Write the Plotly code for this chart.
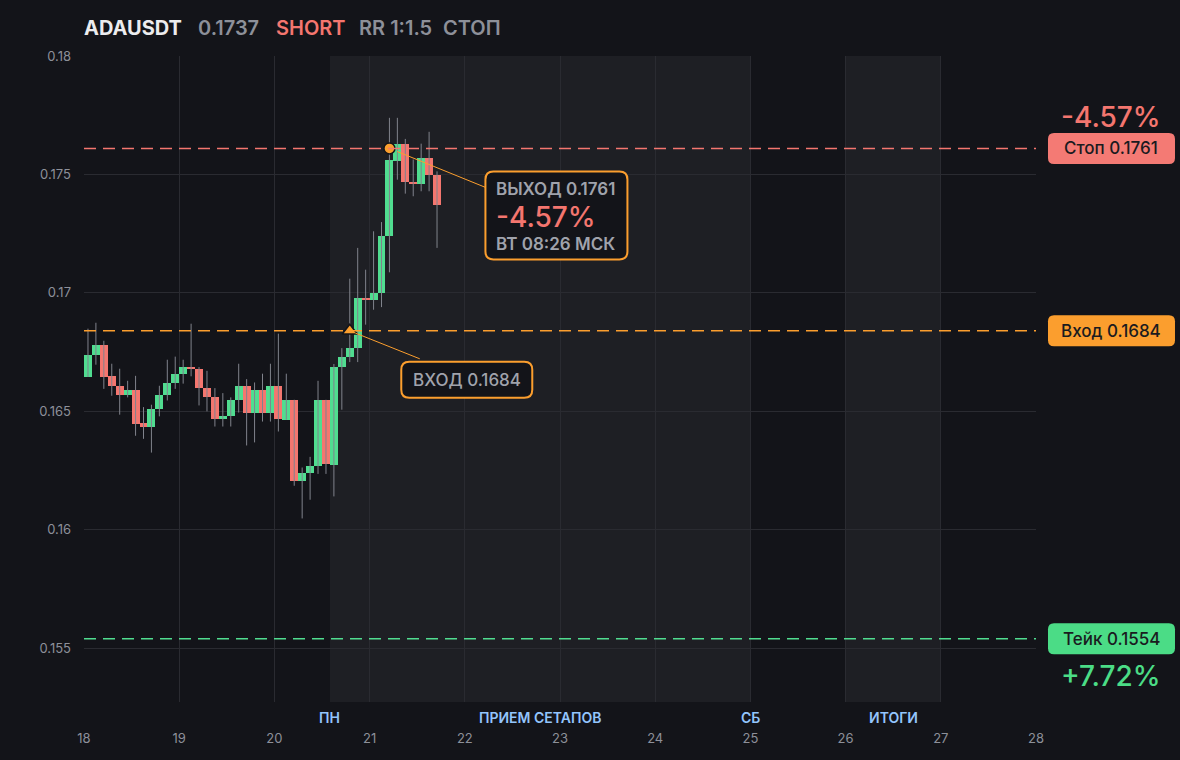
import plotly.graph_objects as go

# 2h candles starting at day 18 00:00
start_day = 18
candle_hours = 2
opens = [0.16647, 0.16736, 0.16781, 0.16650, 0.16608, 0.16567, 0.16591, 0.16450, 0.16436, 0.16508,
         0.16567, 0.16619, 0.16659, 0.16688, 0.16679, 0.16598, 0.16560, 0.16466, 0.16479, 0.16546,
         0.16608, 0.16495, 0.16591, 0.16495, 0.16608, 0.16465, 0.16549, 0.16208, 0.16239, 0.16270,
         0.16549, 0.16274, 0.16687, 0.16729, 0.16766, 0.16978, 0.16968, 0.16999, 0.17239, 0.17556,
         0.17630, 0.17468, 0.17459, 0.17570, 0.17497]
closes = [0.16739, 0.16781, 0.16647, 0.16605, 0.16567, 0.16591, 0.16448, 0.16436, 0.16511, 0.16570,
          0.16619, 0.16659, 0.16688, 0.16679, 0.16597, 0.16559, 0.16466, 0.16481, 0.16549, 0.16608,
          0.16495, 0.16591, 0.16495, 0.16608, 0.16466, 0.16549, 0.16208, 0.16239, 0.16270, 0.16549,
          0.16276, 0.16687, 0.16729, 0.16769, 0.16978, 0.16968, 0.17001, 0.17242, 0.17559, 0.17630,
          0.17468, 0.17459, 0.17570, 0.17497, 0.17370]
highs = [0.16849, 0.16874, 0.16798, 0.16701, 0.16680, 0.16629, 0.16650, 0.16518, 0.16528, 0.16608,
         0.16718, 0.16731, 0.16718, 0.16870, 0.16687, 0.16671, 0.16598, 0.16577, 0.16559, 0.16701,
         0.16636, 0.16622, 0.16659, 0.16701, 0.16828, 0.16659, 0.16549, 0.16263, 0.16308, 0.16629,
         0.16549, 0.16700, 0.16767, 0.17060, 0.17190, 0.17098, 0.17260, 0.17299, 0.17739, 0.17739,
         0.17650, 0.17563, 0.17630, 0.17680, 0.17513]
lows = [0.16645, 0.16697, 0.16595, 0.16566, 0.16486, 0.16559, 0.16397, 0.16384, 0.16326, 0.16479,
        0.16546, 0.16595, 0.16617, 0.16648, 0.16525, 0.16500, 0.16436, 0.16436, 0.16436, 0.16495,
        0.16356, 0.16369, 0.16457, 0.16457, 0.16415, 0.16465, 0.16186, 0.16048, 0.16127, 0.16236,
        0.16236, 0.16141, 0.16507, 0.16708, 0.16708, 0.16866, 0.16929, 0.16940, 0.17087, 0.17478,
        0.17419, 0.17408, 0.17429, 0.17429, 0.17190]

entry_price = 0.1684
stop_price = 0.1761
take_price = 0.1554
entry_candle = 33
exit_candle = 38

session_starts = [20 + 14 / 24, 26]
session_ends = [25, 27]
session_labels = ["ПН", "ПРИЕМ СЕТАПОВ", "СБ", "ИТОГИ"]
session_label_x = [20 + 14 / 24, 22.79, 25, 26.5]

day_ticks = list(range(18, 29))

BG = "#131419"
SHADE = "#1e1f24"
GRID = "#2a2b31"
GREEN = "#50dd90"
RED = "#f4766f"
ORANGE = "#fb9e2e"
GRAY = "#8d9099"
FONT = "Inter"

step = candle_hours / 24
times = [start_day + (i + 0.5) * step for i in range(len(opens))]
colors = [GREEN if c >= o else RED for o, c in zip(opens, closes)]

wick_x, wick_y = [], []
for t, lo, hi in zip(times, lows, highs):
    wick_x += [t, t, None]
    wick_y += [lo, hi, None]

fig = go.Figure()
fig.add_trace(go.Scatter(x=wick_x, y=wick_y, mode="lines",
                         line=dict(color="#80838c", width=1), hoverinfo="skip"))
fig.add_trace(go.Bar(x=times, base=[min(o, c) for o, c in zip(opens, closes)],
                     y=[max(abs(c - o), 0.00008) for o, c in zip(opens, closes)],
                     width=step, marker=dict(color=colors, line_width=0)))
fig.add_trace(go.Scatter(x=[times[entry_candle]], y=[entry_price], mode="markers",
                         marker=dict(symbol="triangle-up", size=13, color=ORANGE,
                                     line=dict(color=BG, width=1.5))))
fig.add_trace(go.Scatter(x=[times[exit_candle]], y=[stop_price], mode="markers",
                         marker=dict(symbol="circle", size=11, color=ORANGE,
                                     line=dict(color=BG, width=1.5))))


def rrect(x0, y0, x1, y1, r):
    return (f"M{x0 + r},{y0} L{x1 - r},{y0} Q{x1},{y0} {x1},{y0 + r} "
            f"L{x1},{y1 - r} Q{x1},{y1} {x1 - r},{y1} L{x0 + r},{y1} "
            f"Q{x0},{y1} {x0},{y1 - r} L{x0},{y0 + r} Q{x0},{y0} {x0 + r},{y0} Z")


# session shading
for s, e in zip(session_starts, session_ends):
    fig.add_shape(type="rect", xref="x", yref="paper", x0=s, x1=e, y0=0, y1=1,
                  fillcolor=SHADE, line_width=0, layer="below")

# level lines
for price, col in [(stop_price, RED), (entry_price, ORANGE), (take_price, GREEN)]:
    fig.add_shape(type="line", xref="x", yref="y", x0=18, x1=28, y0=price, y1=price,
                  line=dict(color=col, width=1.5, dash="12px,7px"), layer="above")

# callout boxes (pixel offsets from marker)
callouts = [
    (times[entry_candle], entry_price, 70, 28, 117, 49, 131, 36),
    (times[exit_candle], stop_price, 96, 39, 167, 67, 142, 88),
]
for cx, cy, lx, ly, bx, by, bw, bh in callouts:
    fig.add_shape(type="line", xref="x", yref="y", xsizemode="pixel", ysizemode="pixel",
                  xanchor=cx, yanchor=cy, x0=lx * 0.08, y0=-ly * 0.08, x1=lx, y1=-ly,
                  line=dict(color=ORANGE, width=1), layer="above")
    fig.add_shape(type="path", xref="x", yref="y", xsizemode="pixel", ysizemode="pixel",
                  xanchor=cx, yanchor=cy,
                  path=rrect(bx - bw / 2, -by - bh / 2, bx + bw / 2, -by + bh / 2, 8),
                  fillcolor=BG, line=dict(color=ORANGE, width=2), layer="above")

fig.add_annotation(x=times[entry_candle], y=entry_price, xshift=117, yshift=-49,
                   xanchor="center", yanchor="middle",
                   text="ВХОД 0.1684", showarrow=False,
                   font=dict(family=FONT, size=17, color="#a0a3ac", weight=500))
exit_lines = [("ВЫХОД 0.1761", -41, 17, "#a0a3ac", 600),
              ("-4.57%", -69, 28, RED, 500),
              ("ВТ 08:26 МСК", -96, 17, "#a0a3ac", 600)]
for txt, dy, sz, col, w in exit_lines:
    fig.add_annotation(x=times[exit_candle], y=stop_price, xshift=105, yshift=dy,
                       xanchor="left", yanchor="middle", text=txt, showarrow=False,
                       font=dict(family=FONT, size=sz, color=col, weight=w))

# right-side price pills
pill_x = 1.0793
for price, col, label in [(stop_price, "#f47a74", "Стоп 0.1761"),
                          (entry_price, ORANGE, "Вход 0.1684"),
                          (take_price, "#4bdc86", "Тейк 0.1554")]:
    fig.add_shape(type="path", xref="paper", yref="y", xsizemode="pixel", ysizemode="pixel",
                  xanchor=pill_x, yanchor=price, path=rrect(-63.5, -15.5, 63.5, 15.5, 6),
                  fillcolor=col, line_width=0)
    fig.add_annotation(xref="paper", yref="y", x=pill_x, y=price, text=label, showarrow=False,
                       xanchor="center", yanchor="middle",
                       font=dict(family=FONT, size=17, color="#1a1b1f", weight=500))
fig.add_annotation(xref="paper", yref="y", x=pill_x, y=stop_price, yshift=31, text="-4.57%",
                   xanchor="center", yanchor="middle", showarrow=False,
                   font=dict(family=FONT, size=28, color=RED, weight=500))
fig.add_annotation(xref="paper", yref="y", x=pill_x, y=take_price, yshift=-37, text="+7.72%",
                   xanchor="center", yanchor="middle", showarrow=False,
                   font=dict(family=FONT, size=28, color="#4bdc86", weight=500))

# session labels under the axis
for lx, lt in zip(session_label_x, session_labels):
    fig.add_annotation(x=lx, xref="x", yref="paper", y=0, yshift=-15, text=lt, showarrow=False,
                       xanchor="center", yanchor="middle",
                       font=dict(family=FONT, size=14, color="#93c5fd", weight=600))

# header
header = [("ADAUSDT", "#ececee", 700, -2), ("0.1737", GRAY, 600, 112),
          ("SHORT", RED, 600, 190), ("RR 1:1.5", GRAY, 600, 273), ("СТОП", GRAY, 600, 357)]
for txt, col, w, dx in header:
    fig.add_annotation(xref="paper", yref="paper", x=0, y=1, xanchor="left", yanchor="middle",
                       xshift=dx, yshift=28, text=txt, showarrow=False,
                       font=dict(family=FONT, size=20, color=col, weight=w))

fig.update_layout(
    width=1180, height=760,
    paper_bgcolor=BG, plot_bgcolor=BG,
    margin=dict(l=84, r=144, t=56, b=58),
    showlegend=False, bargap=0, barmode="overlay",
    font=dict(family=FONT, color=GRAY),
    xaxis=dict(range=[18, 28], tickvals=day_ticks, showgrid=True, gridcolor=GRID, gridwidth=1,
               zeroline=False, showline=False, tickfont=dict(size=13, color=GRAY),
               ticklabelstandoff=27, fixedrange=True),
    yaxis=dict(range=[0.152732, 0.18], dtick=0.005, tick0=0.155, showgrid=True,
               gridcolor=GRID, gridwidth=1, zeroline=False, showline=False,
               tickfont=dict(size=13, color=GRAY), ticklabelstandoff=12, fixedrange=True),
)

fig.write_html("out.html", config={"displayModeBar": False},
               post_script="document.body.style.margin='0';"
                           "document.body.style.background='#131419';"
                           "document.body.style.overflow='hidden';")
